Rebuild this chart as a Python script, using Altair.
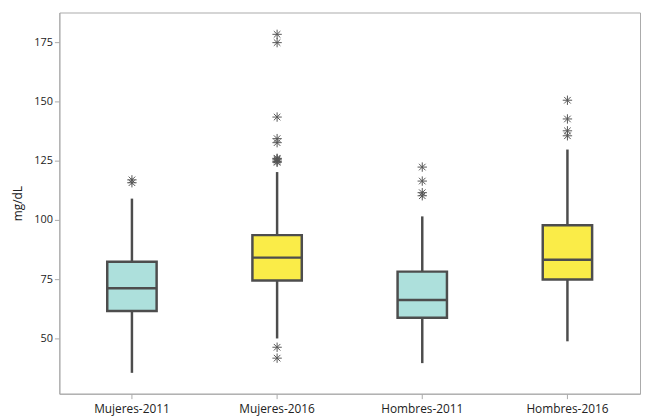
import altair as alt
import pandas as pd

groups = ["Mujeres-2011", "Mujeres-2016", "Hombres-2011", "Hombres-2016"]
lower = [35.5, 50.0, 39.6, 48.8]
q1 = [61.6, 74.5, 58.7, 74.9]
median = [71.2, 84.1, 66.2, 83.2]
q3 = [82.4, 93.6, 78.2, 97.8]
upper = [109.0, 120.2, 101.5, 129.7]
fills = ["#ade0dc", "#faec48", "#ade0dc", "#faec48"]

out_mujeres_2011 = [116.9, 115.7]
out_mujeres_2016 = [178.3, 174.8, 143.4, 134.3, 132.6, 126.0, 125.3, 124.6, 124.3, 125.8, 46.3, 41.7]
out_hombres_2011 = [122.3, 116.4, 111.5, 110.2]
out_hombres_2016 = [150.5, 142.6, 137.6, 135.5]

box_df = pd.DataFrame({"group": groups, "lower": lower, "q1": q1, "median": median,
                       "q3": q3, "upper": upper, "fill": fills})
out_rows = []
for g, vals in zip(groups, [out_mujeres_2011, out_mujeres_2016, out_hombres_2011, out_hombres_2016]):
    for v in vals:
        out_rows.append({"group": g, "value": v})
out_df = pd.DataFrame(out_rows)

x = alt.X("group:N", sort=groups, title=None,
          scale=alt.Scale(paddingInner=0, paddingOuter=0),
          axis=alt.Axis(labelAngle=0, labelFontSize=12, labelColor="#222", labelPadding=5,
                        tickColor="#aaa", tickSize=5, domainColor="#aaa", labelFont="Open Sans"))
yscale = alt.Scale(domain=[26.7, 187.5], nice=False, zero=False)
yaxis = alt.Axis(values=[50, 75, 100, 125, 150, 175], grid=False, labelFontSize=11,
                 labelColor="#222", tickColor="#aaa", tickSize=5, domainColor="#aaa",
                 titleFontSize=12, titleFontWeight="normal", titleColor="#222",
                 labelFont="Open Sans", titleFont="Open Sans", titlePadding=9)

base = alt.Chart(box_df)
whisk = base.mark_rule(color="#4d4d4d", strokeWidth=2.5).encode(
    x=x, y=alt.Y("lower:Q", scale=yscale, axis=yaxis, title="mg/dL"), y2="upper:Q")
box = base.mark_bar(size=50, stroke="#4d4d4d", strokeWidth=2.5, opacity=1).encode(
    x=x, y=alt.Y("q1:Q", scale=yscale), y2="q3:Q",
    color=alt.Color("fill:N", scale=None))
med = base.mark_tick(size=50, thickness=2.5, color="#4d4d4d", opacity=1).encode(
    x=x, y=alt.Y("median:Q", scale=yscale))
star = "M-1,0L1,0M0,-1L0,1M-0.7,-0.7L0.7,0.7M-0.7,0.7L0.7,-0.7"
pts = alt.Chart(out_df).mark_point(shape=star, filled=False, size=90, stroke="#555",
                                   strokeWidth=1.0, opacity=1).encode(
    x=x, y=alt.Y("value:Q", scale=yscale))

chart = alt.layer(whisk, box, med, pts).properties(
    width=588, height=386, autosize="none", background="white",
    padding={"left": 52, "top": 2, "right": 1, "bottom": 20}
).configure_view(stroke="#aaa", strokeWidth=1, fill="white")

chart.save("out.html", embed_options={"renderer": "svg", "actions": False})
